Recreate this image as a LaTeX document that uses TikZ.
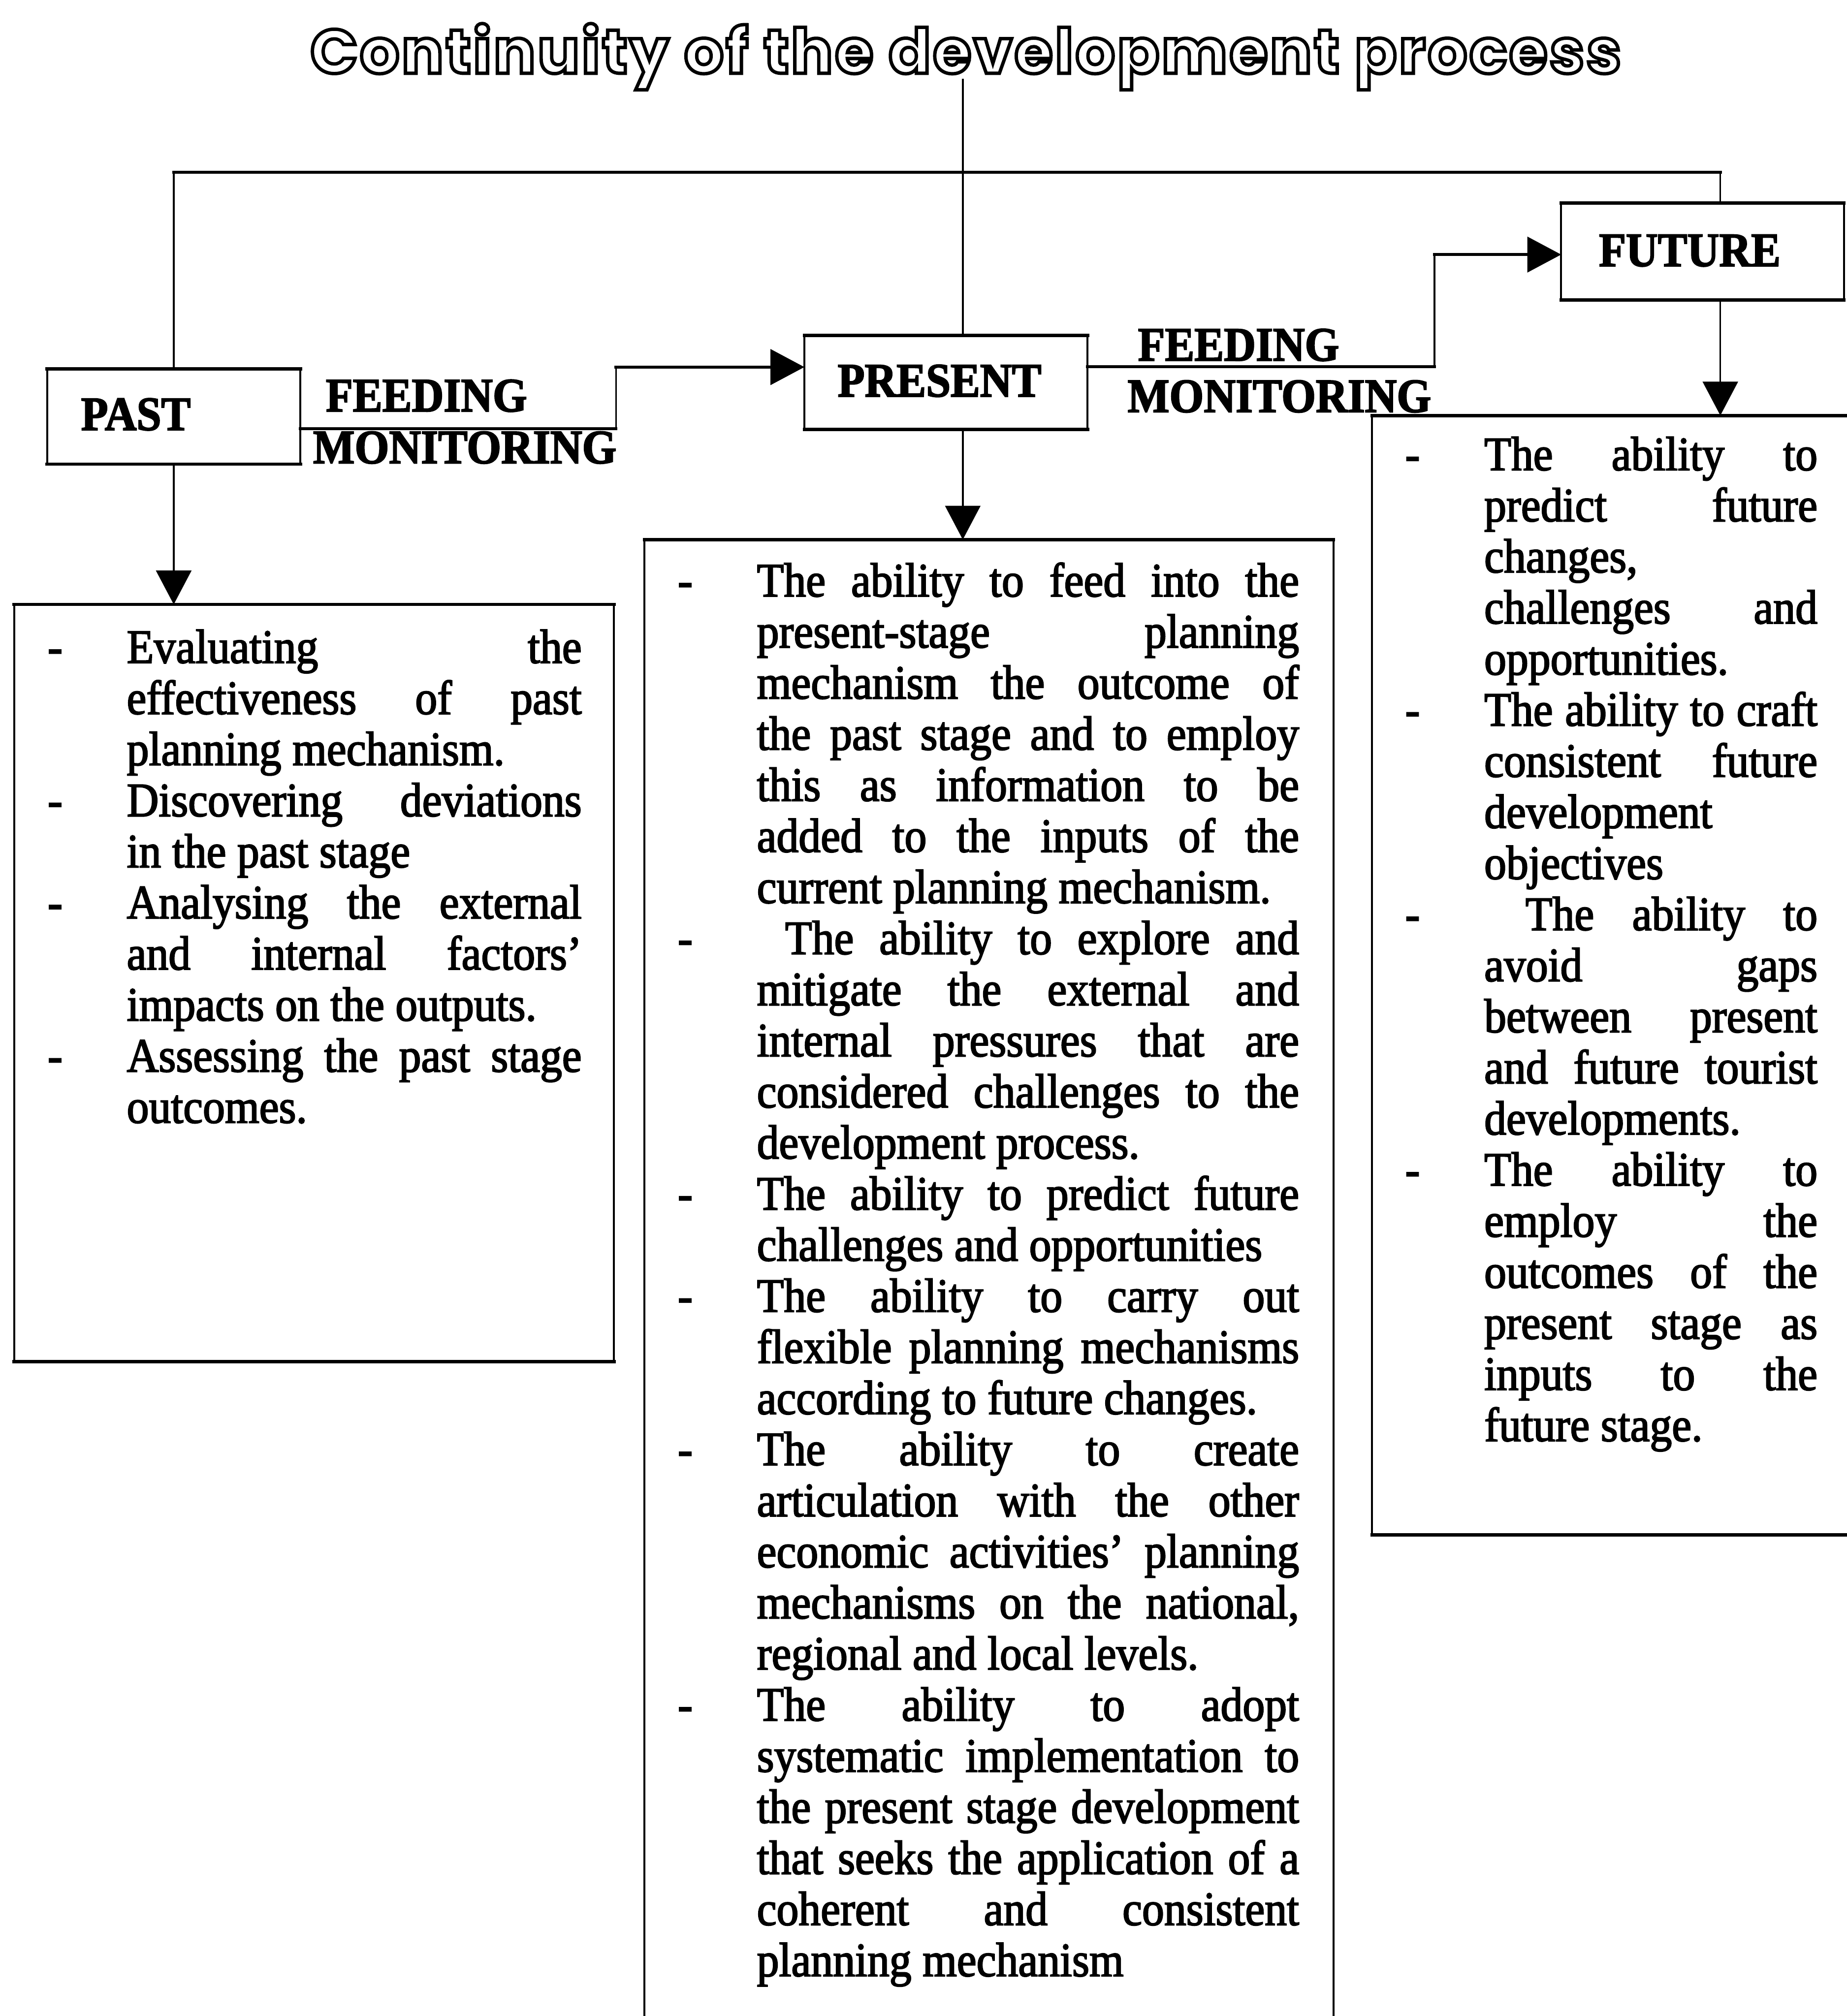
\documentclass[tikz,border=0pt]{standalone}
\usepackage{fontspec}
\setmainfont{Liberation Serif}[FakeStretch=0.92]
\newfontfamily\titlefont{Poppins}[LetterSpace=3.5]
\usetikzlibrary{arrows.meta}

% bulleted entries of a list column: a dash, then a hanging paragraph
\newcommand\firstitm{\hangindent=28pt\hangafter=1\relax\makebox[28pt][l]{-}}
\newcommand\itm{\par\hangindent=28pt\hangafter=1\noindent\makebox[28pt][l]{-}}
% hollow (stroked only) lettering for the heading
\newcommand\hollow[1]{\special{pdf:literal direct 1 Tr 1.2 w}#1\special{pdf:literal direct 0 Tr 0.4 w}}
% slightly heavier lettering (filled and stroked)
\newcommand\heavy[1]{\special{pdf:literal direct 2 Tr 0.4 w}#1\special{pdf:literal direct 0 Tr 0.4 w}}

\tikzset{
  frame/.style={draw, line width=0.7pt, inner sep=0pt, outer sep=0pt},
  edge/.style={line width=1.2pt, line cap=rect},
  hline/.style={line width=1.1pt, line cap=rect},
  vline/.style={line width=0.6pt},
  tip/.style={-{Triangle[width=12.5pt,length=12pt]}},
  stagelabel/.style={inner sep=0pt, anchor=base west,
    font=\fontsize{17pt}{18.1pt}\selectfont\bfseries},
  listtext/.style={inner sep=0pt, anchor=base west, align=justify,
    font={\fontsize{17pt}{18.1pt}\selectfont\hyphenpenalty=10000\relax
      \exhyphenpenalty=10000\relax\tolerance=9999\relax\hbadness=10000\relax}},
  heading/.style={inner sep=0pt, outer sep=2pt, anchor=base,
    text depth=0pt, font=\titlefont\fontsize{22pt}{26pt}\selectfont\bfseries}
}

\begin{document}
\begin{tikzpicture}[x=0.016cm, y=-0.016cm]
\useasboundingbox (0,0) rectangle (1436,1568);

% heading
\node[heading] (title) at (751,57) {\hollow{Continuity of the development process}};

% stage boxes
\node[frame, minimum width=89.69pt, minimum height=33.69pt] (past) at (135.1,324) {};
\node[frame, minimum width=100.25pt, minimum height=33.23pt] (present) at (735.6,297.5) {};
\node[frame, minimum width=100.16pt, minimum height=34.28pt] (future) at (1324,195.65) {};
\node[stagelabel] (pastlabel) at (62.6,334.5) {\heavy{PAST}};
\node[stagelabel] (presentlabel) at (651,308.4) {\heavy{PRESENT}};
\node[stagelabel] (futurelabel) at (1243,207) {\heavy{FUTURE}};

% list boxes
\node[frame, minimum width=212.43pt, minimum height=268.15pt] (pastlist) at (244.3,764.5) {};
\node[frame, minimum width=244.02pt, minimum height=526.06pt] (prelist) at (769,997.25) {};
\node[frame, minimum width=174.37pt, minimum height=396.54pt] (futlist) at (1258.5,758.5) {};

% heavier top and bottom rules of every box
\foreach \n in {past,present,future,pastlist,prelist,futlist}{
  \draw[edge] (\n.north west) -- (\n.north east);
  \draw[edge] (\n.south west) -- (\n.south east);
}

% reference coordinates for the connectors
\coordinate (presx) at (748.7,0);
\coordinate (futx) at (1337.8,0);
\coordinate (topy) at (0,134);
\coordinate (f1low) at (0,333.5);
\coordinate (f1x) at (479,0);
\coordinate (f1high) at (0,285.5);
\coordinate (f2low) at (0,285.3);
\coordinate (f2x) at (1115.5,0);
\coordinate (f2high) at (0,198);

% heading down to the present stage
\draw[vline] (title.south -| presx) -- (present.north -| presx);

% loop over the top, from past to future
\draw[vline] (past.north) -- (past.north |- topy);
\draw[hline] (past.north |- topy) -- (futx |- topy);
\draw[vline] (futx |- topy) -- (future.north -| futx);

% past -> present
\draw[hline] (past.east |- f1low) -- (f1x |- f1low);
\draw[vline] (f1x |- f1low) -- (f1x |- f1high);
\draw[hline,tip] (f1x |- f1high) -- (present.west |- f1high);

% present -> future
\draw[hline] (present.east |- f2low) -- (f2x |- f2low);
\draw[vline] (f2x |- f2low) -- (f2x |- f2high);
\draw[hline,tip] (f2x |- f2high) -- (future.west |- f2high);

% stage boxes down to their lists
\draw[vline,tip] (past.south) -- (past.south |- pastlist.north);
\draw[vline,tip] (present.south -| presx) -- (prelist.north -| presx);
\draw[vline,tip] (future.south -| futx) -- (futlist.north -| futx);

% connector labels
\node[stagelabel] (feed1) at (253,320) {\heavy{FEEDING}};
\node[stagelabel] (mon1) at (243,360.3) {\heavy{MONITORING}};
\node[stagelabel] (feed2) at (884.5,280.5) {\heavy{FEEDING}};
\node[stagelabel] (mon2) at (876.5,320.5) {\heavy{MONITORING}};

% list contents
\node[listtext, text width=189.1pt] (pasttext) at (36.7,515.6) {\heavy{%
\firstitm Evaluating the\linebreak effectiveness of past\linebreak planning mechanism.
\itm Discovering deviations\linebreak in the past stage
\itm Analysing the external\linebreak and internal factors’\linebreak impacts on the outputs.
\itm Assessing the past stage\linebreak outcomes.\par}};

\node[listtext, text width=220pt] (pretext) at (526.7,463.9) {\heavy{%
\firstitm The ability to feed into the\linebreak present-stage planning\linebreak mechanism the outcome of\linebreak the past stage and to employ\linebreak this as information to be\linebreak added to the inputs of the\linebreak current planning mechanism.
\itm\hspace*{10pt}The ability to explore and\linebreak mitigate the external and\linebreak internal pressures that are\linebreak considered challenges to the\linebreak development process.
\itm The ability to predict future\linebreak challenges and opportunities
\itm The ability to carry out\linebreak flexible planning mechanisms\linebreak according to future changes.
\itm The ability to create\linebreak articulation with the other\linebreak economic activities’ planning\linebreak mechanisms on the national,\linebreak regional and local levels.
\itm The ability to adopt\linebreak systematic implementation to\linebreak the present stage development\linebreak that seeks the application of a\linebreak coherent and consistent\linebreak planning mechanism\par}};

\node[listtext, text width=146pt] (futtext) at (1092.3,365.7) {\heavy{%
\firstitm The ability to\linebreak predict future\linebreak changes,\linebreak challenges and\linebreak opportunities.
\itm The ability to craft\linebreak consistent future\linebreak development\linebreak objectives
\itm\hspace*{14.6pt}The ability to\linebreak avoid gaps\linebreak between present\linebreak and future tourist\linebreak developments.
\itm The ability to\linebreak employ the\linebreak outcomes of the\linebreak present stage as\linebreak inputs to the\linebreak future stage.\par}};
\end{tikzpicture}
\end{document}
